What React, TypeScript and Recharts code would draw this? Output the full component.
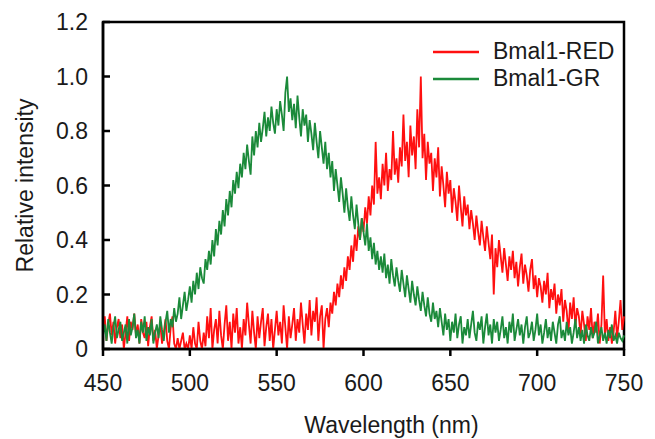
import { Legend, Line, LineChart, ReferenceArea, XAxis, YAxis } from "recharts"

// spectra sampled every 1 nm from 450 to 750 nm
const wavelengthStart = 450
const wavelengthStep = 1

const bmalGR = [
  0.05, 0.09, 0.03, 0.11, 0.06, 0.02, 0.08, 0.12, 0.04, 0.07,
  0.10, 0.03, 0.06, 0.09, 0.02, 0.11, 0.05, 0.08, 0.13, 0.04,
  0.07, 0.02, 0.10, 0.06, 0.12, 0.03, 0.08, 0.05, 0.11, 0.02,
  0.06, 0.09, 0.04, 0.12, 0.07, 0.03, 0.10, 0.14, 0.06, 0.11,
  0.08, 0.15, 0.10, 0.13, 0.19, 0.11, 0.16, 0.21, 0.14, 0.18,
  0.23, 0.17, 0.25, 0.20, 0.28, 0.22, 0.30, 0.26, 0.24, 0.33,
  0.29, 0.36, 0.31, 0.40, 0.34, 0.44, 0.38, 0.47, 0.42, 0.51,
  0.45, 0.55, 0.49, 0.58, 0.52, 0.62, 0.57, 0.65, 0.59, 0.68,
  0.63, 0.72, 0.66, 0.75, 0.69, 0.64, 0.78, 0.71, 0.80, 0.74,
  0.83, 0.76, 0.81, 0.87, 0.78, 0.85, 0.80, 0.89, 0.83, 0.79,
  0.88, 0.82, 0.91, 0.86, 0.80, 0.94, 1.00, 0.87, 0.92, 0.84,
  0.90, 0.81, 0.93, 0.85, 0.78, 0.88, 0.82, 0.86, 0.76, 0.84,
  0.79, 0.73, 0.83, 0.76, 0.70, 0.80, 0.74, 0.68, 0.76, 0.66,
  0.72, 0.63, 0.69, 0.58, 0.66, 0.60, 0.54, 0.63, 0.57, 0.50,
  0.59, 0.52, 0.47, 0.56, 0.49, 0.44, 0.53, 0.46, 0.40, 0.48,
  0.43, 0.38, 0.46, 0.36, 0.41, 0.33, 0.39, 0.31, 0.36, 0.29,
  0.34, 0.28, 0.35, 0.26, 0.31, 0.24, 0.33, 0.27, 0.23, 0.30,
  0.25, 0.21, 0.29, 0.24, 0.19, 0.27, 0.22, 0.17, 0.25, 0.20,
  0.16, 0.23, 0.18, 0.14, 0.21, 0.16, 0.12, 0.19, 0.13, 0.10,
  0.17, 0.11, 0.14, 0.08, 0.15, 0.10, 0.05, 0.13, 0.07, 0.11,
  0.03, 0.10, 0.06, 0.13, 0.04, 0.09, 0.12, 0.02, 0.08, 0.05,
  0.11, 0.04, 0.09, 0.14, 0.06, 0.03, 0.10, 0.07, 0.12, 0.02,
  0.08, 0.13, 0.05, 0.09, 0.02, 0.11, 0.06, 0.10, 0.03, 0.07,
  0.12, 0.04, 0.08, 0.02, 0.10, 0.06, 0.13, 0.03, 0.07, 0.11,
  0.05, 0.09, 0.02, 0.08, 0.12, 0.04, 0.06, 0.10, 0.03, 0.07,
  0.13, 0.05, 0.09, 0.02, 0.06, 0.11, 0.04, 0.08, 0.03, 0.10,
  0.06, 0.02, 0.09, 0.12, 0.04, 0.07, 0.03, 0.10, 0.05, 0.08,
  0.02, 0.06, 0.11, 0.04, 0.08, 0.03, 0.07, 0.02, 0.09, 0.05,
  0.03, 0.08, 0.04, 0.06, 0.10, 0.02, 0.05, 0.08, 0.03, 0.06,
  0.02, 0.07, 0.04, 0.09, 0.03, 0.05, 0.02, 0.06, 0.04, 0.03,
  0.05,
]

const bmalRED = [
  0.07, 0.12, 0.03, 0.09, 0.13, 0.05, 0.10, 0.02, 0.08, 0.11,
  0.04, 0.09, 0.00, 0.06, 0.12, 0.03, 0.10, 0.07, 0.13, 0.05,
  0.09, 0.02, 0.11, 0.06, 0.04, 0.10, 0.01, 0.08, 0.12, 0.03,
  0.07, 0.00, 0.05, 0.09, 0.02, 0.06, 0.11, 0.03, 0.00, 0.08,
  0.12, 0.02, 0.00, 0.04, 0.00, 0.03, 0.06, 0.00, 0.02, 0.00,
  0.05, 0.00, 0.08, 0.02, 0.00, 0.10, 0.03, 0.00, 0.06, 0.01,
  0.12, 0.04, 0.15, 0.00, 0.07, 0.11, 0.02, 0.14, 0.05, 0.00,
  0.09, 0.16, 0.03, 0.10, 0.00, 0.13, 0.06, 0.15, 0.02, 0.08,
  0.00, 0.11, 0.05, 0.17, 0.09, 0.02, 0.14, 0.06, 0.00, 0.12,
  0.04, 0.10, 0.15, 0.01, 0.08, 0.13, 0.03, 0.11, 0.00, 0.07,
  0.14, 0.05, 0.10, 0.02, 0.16, 0.08, 0.00, 0.12, 0.04, 0.09,
  0.15, 0.03, 0.11, 0.06, 0.17, 0.09, 0.02, 0.13, 0.07, 0.18,
  0.05, 0.14, 0.10, 0.19, 0.03, 0.12, 0.16, 0.00, 0.11, 0.15,
  0.08, 0.17, 0.13, 0.21, 0.16, 0.24, 0.19, 0.27, 0.22, 0.30,
  0.25, 0.34, 0.29, 0.38, 0.32, 0.42, 0.36, 0.45, 0.40, 0.48,
  0.43, 0.52, 0.46, 0.56, 0.49, 0.60, 0.53, 0.76, 0.57, 0.63,
  0.55, 0.68, 0.60, 0.72, 0.58, 0.66, 0.62, 0.80, 0.64, 0.70,
  0.61, 0.74, 0.67, 0.86, 0.69, 0.76, 0.63, 0.82, 0.71, 0.78,
  0.66, 0.88, 0.74, 1.00, 0.70, 0.79, 0.62, 0.76, 0.68, 0.72,
  0.58, 0.70, 0.63, 0.74, 0.56, 0.67, 0.60, 0.52, 0.65, 0.57,
  0.62, 0.50, 0.59, 0.54, 0.47, 0.60, 0.52, 0.45, 0.56, 0.49,
  0.53, 0.44, 0.51, 0.46, 0.40, 0.49, 0.43, 0.38, 0.47, 0.41,
  0.36, 0.45, 0.39, 0.33, 0.42, 0.20, 0.37, 0.30, 0.40, 0.34,
  0.28, 0.37, 0.31, 0.25, 0.34, 0.29, 0.36, 0.26, 0.32, 0.23,
  0.30, 0.35, 0.24, 0.31, 0.27, 0.21, 0.29, 0.33, 0.22, 0.27,
  0.19, 0.26, 0.23, 0.17, 0.25, 0.20, 0.28, 0.15, 0.22, 0.18,
  0.24, 0.13, 0.20, 0.16, 0.22, 0.10, 0.18, 0.14, 0.06, 0.17,
  0.11, 0.19, 0.08, 0.15, 0.12, 0.05, 0.14, 0.09, 0.03, 0.12,
  0.07, 0.15, 0.04, 0.10, 0.06, 0.13, 0.02, 0.09, 0.27, 0.05,
  0.11, 0.03, 0.08, 0.02, 0.06, 0.14, 0.04, 0.10, 0.18, 0.07,
  0.12,
]

const xTicks = [450, 500, 550, 600, 650, 700, 750]
const yTicks = [0, 0.2, 0.4, 0.6, 0.8, 1.0, 1.2]

const seriesNames = ["Bmal1-RED", "Bmal1-GR"]
const seriesColors = ["#ff1010", "#1b8a3a"]

const data = bmalGR.map((gr, i) => ({
  wavelength: wavelengthStart + i * wavelengthStep,
  red: bmalRED[i],
  gr,
}))

const FONT = "'Liberation Sans', Arial, sans-serif"
const TEXT = "#1a1a1a"
const FS = 23

const YTick = ({ x, y, payload }: any) => (
  <g>
    <line x1={x} x2={x + 7} y1={y} y2={y} stroke="#000" strokeWidth={2.5} />
    <text
      x={x - 15}
      y={y}
      dy="0.36em"
      textAnchor="end"
      fontSize={FS}
      fontFamily={FONT}
      fill={TEXT}
    >
      {payload.value === 0 ? "0" : payload.value.toFixed(1)}
    </text>
  </g>
)

const renderLegend = () => (
  <div style={{ fontFamily: FONT, fontSize: FS, color: TEXT }}>
    {seriesNames.map((name, i) => (
      <div key={name} style={{ display: "flex", alignItems: "center", height: 27 }}>
        <svg width={46} height={6} style={{ marginRight: 14 }}>
          <line x1={0} x2={46} y1={3} y2={3} stroke={seriesColors[i]} strokeWidth={2.5} />
        </svg>
        <span>{name}</span>
      </div>
    ))}
  </div>
)

const App = () => (
  <div style={{ position: "absolute", left: 0, top: 0, background: "#fff" }}>
    <LineChart
      width={655}
      height={439}
      data={data}
      margin={{ top: 22, right: 31, left: 0, bottom: 0 }}
    >
      <XAxis
        dataKey="wavelength"
        type="number"
        domain={[450, 750]}
        ticks={xTicks}
        height={90}
        tickSize={7}
        tickMargin={19}
        stroke="#000"
        strokeWidth={2.5}
        tick={{ fontSize: FS, fontFamily: FONT, fill: TEXT }}
        label={{
          value: "Wavelength (nm)",
          position: "insideBottom",
          offset: 6,
          dx: 28,
          fontSize: FS,
          fontFamily: FONT,
          fill: TEXT,
        }}
      />
      <YAxis
        type="number"
        domain={[0, 1.2]}
        ticks={yTicks}
        width={103}
        tickSize={0}
        tickMargin={0}
        tickLine={false}
        stroke="#000"
        strokeWidth={2.5}
        tick={<YTick />}
        label={{
          value: "Relative intensity",
          angle: -90,
          position: "insideLeft",
          offset: 25,
          fontSize: FS,
          fontFamily: FONT,
          fill: TEXT,
          style: { textAnchor: "middle" },
        }}
      />
      <ReferenceArea
        x1={450}
        x2={750}
        y1={0}
        y2={1.2}
        fill="none"
        stroke="#000"
        strokeWidth={2.5}
        ifOverflow="visible"
      />
      <Line
        type="linear"
        dataKey="red"
        name={seriesNames[0]}
        stroke={seriesColors[0]}
        strokeWidth={1.8}
        dot={false}
        isAnimationActive={false}
      />
      <Line
        type="linear"
        dataKey="gr"
        name={seriesNames[1]}
        stroke={seriesColors[1]}
        strokeWidth={1.8}
        dot={false}
        isAnimationActive={false}
      />
      <Legend
        layout="horizontal"
        verticalAlign="middle"
        align="center"
        wrapperStyle={{ left: 433, top: 38, width: "auto" }}
        content={renderLegend}
      />
    </LineChart>
  </div>
)

export default App
